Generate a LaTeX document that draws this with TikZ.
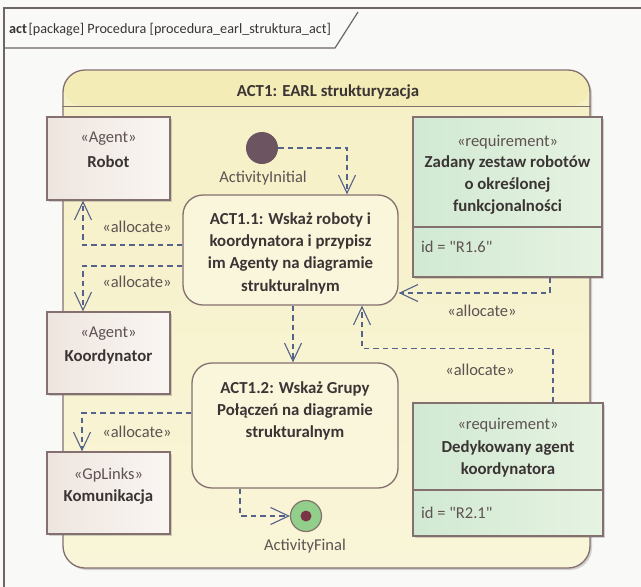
\documentclass[tikz,border=0pt]{standalone}
\usepackage{fontspec}
\setmainfont{Carlito}
\usetikzlibrary{arrows.meta,shadows}

\definecolor{pagebg}{HTML}{F9F9F7}
\definecolor{outerline}{HTML}{6E6666}
\definecolor{boxline}{HTML}{857070}
\definecolor{txtdark}{HTML}{3B3434}
\definecolor{txtsoft}{HTML}{5E5252}
\definecolor{conncol}{HTML}{55628A}
\definecolor{framebandcol}{HTML}{F4ECB6}
\definecolor{frametop}{HTML}{F6F0C6}
\definecolor{framebot}{HTML}{F9F5D8}
\definecolor{agentL}{HTML}{EEE5DF}
\definecolor{agentR}{HTML}{FAF6F3}
\definecolor{reqL}{HTML}{D1E9D2}
\definecolor{reqR}{HTML}{E6F3E2}
\definecolor{actfill}{HTML}{FAF6DC}
\definecolor{initcol}{HTML}{6C5460}
\definecolor{finalgreen}{HTML}{92CF8A}
\definecolor{finaldot}{HTML}{7A3446}

\tikzset{
  shadowed/.style={drop shadow={shadow xshift=2pt,shadow yshift=-2pt,opacity=0.28,fill=black!60}},
  agentbox/.style={draw=boxline,line width=1.3pt,left color=agentL,right color=agentR,shadowed},
  reqbox/.style={draw=boxline,line width=1.3pt,left color=reqL,right color=reqR,shadowed},
  actbox/.style={draw=boxline,line width=1.3pt,fill=actfill,rounded corners=20pt},
  stereo/.style={text=txtsoft,font=\fontsize{16.5}{22}\selectfont,inner sep=0pt},
  boldtxt/.style={text=txtdark,font=\fontsize{16.8}{22.3}\selectfont\bfseries,align=center,inner sep=0pt},
  plaintxt/.style={text=txtsoft,font=\fontsize{16.5}{22}\selectfont,inner sep=0pt},
  conn/.style={draw=conncol,line width=1.2pt,dash pattern=on 5.5pt off 4pt,
    -{Straight Barb[length=18pt,width=17pt,line width=1.1pt]}},
}

\begin{document}
\begin{tikzpicture}[x=1pt,y=-1pt]
\useasboundingbox (0,0) rectangle (641,587);
\clip (0,0) rectangle (641,587);
\fill[pagebg] (0,0) rectangle (641,587);

% diagram frame and its name tab
\draw[outerline,line width=1.2pt] (4,700) -- (4,8) -- (700,8);
\draw[outerline,line width=1.2pt] (4,48) -- (335,48) -- (358,12);
\node[anchor=west,text=txtdark,font=\fontsize{14.2}{17}\selectfont,inner sep=0pt] (ttl) at (9,30)
  {\textbf{act}\hspace{1.5pt}[package] Procedura [procedura\_earl\_struktura\_act]};

% activity frame
\node[draw=boxline,line width=1.3pt,rounded corners=22pt,top color=frametop,bottom color=framebot,
  minimum width=527pt,minimum height=498pt,shadowed,
  path picture={\fill[framebandcol] (path picture bounding box.north west) rectangle
     ([yshift=-37pt]path picture bounding box.north east);}] (act1) at (326.5,319) {};
\draw[boxline,line width=1.3pt] ([yshift=-37pt]act1.north west) -- ([yshift=-37pt]act1.north east);
\node[boldtxt] (act1t) at (328,92) {ACT1: EARL strukturyzacja};

% agent blocks
\node[agentbox,minimum width=123pt,minimum height=83pt] (robot) at (108.5,158.5) {};
\node[stereo] (robotst) at (108.5,139) {«Agent»};
\node[boldtxt] (robotnm) at (108.5,162) {Robot};

\node[agentbox,minimum width=123pt,minimum height=82pt] (koord) at (108.5,353) {};
\node[stereo] (koordst) at (108.5,334) {«Agent»};
\node[boldtxt] (koordnm) at (108.5,357) {Koordynator};

\node[agentbox,minimum width=123pt,minimum height=82pt] (komm) at (108.5,493) {};
\node[stereo] (kommst) at (108.5,475) {«GpLinks»};
\node[boldtxt] (kommnm) at (108.5,497) {Komunikacja};

% requirements
\node[reqbox,minimum width=189pt,minimum height=160pt] (zad) at (507.5,197) {};
\draw[boxline,line width=1.3pt] ([yshift=-30pt]zad.west) -- ([yshift=-30pt]zad.east);
\node[stereo] (zadst) at (507.5,142) {«requirement»};
\node[boldtxt] (zadnm) at (507.5,185) {Zadany zestaw robotów\\o określonej\\funkcjonalności};
\node[plaintxt,anchor=west] (zadid) at (421,247) {id = \textquotedbl R1.6\textquotedbl};

\node[reqbox,minimum width=190pt,minimum height=133pt] (ded) at (508,469.5) {};
\draw[boxline,line width=1.3pt] ([yshift=-20.5pt]ded.west) -- ([yshift=-20.5pt]ded.east);
\node[stereo] (dedst) at (508,425) {«requirement»};
\node[boldtxt] (dednm) at (508,459) {Dedykowany agent\\koordynatora};
\node[plaintxt,anchor=west] (dedid) at (421,513) {id = \textquotedbl R2.1\textquotedbl};

% actions
\node[actbox,minimum width=215pt,minimum height=110pt] (act11) at (290.5,250) {};
\node[boldtxt] (act11t) at (290.5,253)
  {ACT1.1: Wskaż roboty i\\koordynatora i przypisz\\im Agenty na diagramie\\strukturalnym};

\node[actbox,minimum width=206pt,minimum height=125pt] (act12) at (295,425.5) {};
\node[boldtxt] (act12t) at (295,411)
  {ACT1.2: Wskaż Grupy\\Połączeń na diagramie\\strukturalnym};

% initial and final nodes
\node[circle,fill=initcol,minimum size=32pt,inner sep=0pt] (init) at (262,148) {};
\node[plaintxt] (initl) at (263,178) {ActivityInitial};
\node[circle,draw=boxline,line width=1.2pt,fill=finalgreen,minimum size=31pt,inner sep=0pt] (final) at (306,516) {};
\node[circle,fill=finaldot,minimum size=11pt,inner sep=0pt] (finaldt) at (306,516) {};
\node[plaintxt] (finall) at (305,546) {ActivityFinal};

% control flows
\draw[conn] (init.east) -| ([xshift=56.5pt]act11.north);
\draw[conn] ([xshift=2.5pt]act11.south) -- ([xshift=-2pt]act12.north);
\draw[conn] ([xshift=-55pt]act12.south) |- (final.west);

% allocations
\draw[conn] ([yshift=5pt]act11.west) -| ([xshift=-25.5pt]robot.south);
\draw[conn] ([yshift=-16pt]act11.west) -| ([xshift=-25.5pt]koord.north);
\draw[conn] ([yshift=12.5pt]act12.west) -| ([xshift=-26.5pt]komm.north);
\draw[conn] ([xshift=42.5pt]zad.south) |- ([yshift=-43pt]act11.east);
\draw[conn] ([xshift=45pt]ded.north) |- ([xshift=71.5pt,yshift=-43pt]act11.south)
  -- ([xshift=71.5pt]act11.south);

\node[plaintxt] (al1) at (137,227) {«allocate»};
\node[plaintxt] (al2) at (137,282) {«allocate»};
\node[plaintxt] (al3) at (137,432) {«allocate»};
\node[plaintxt] (al4) at (482,311) {«allocate»};
\node[plaintxt] (al5) at (480,370) {«allocate»};
\end{tikzpicture}
\end{document}
